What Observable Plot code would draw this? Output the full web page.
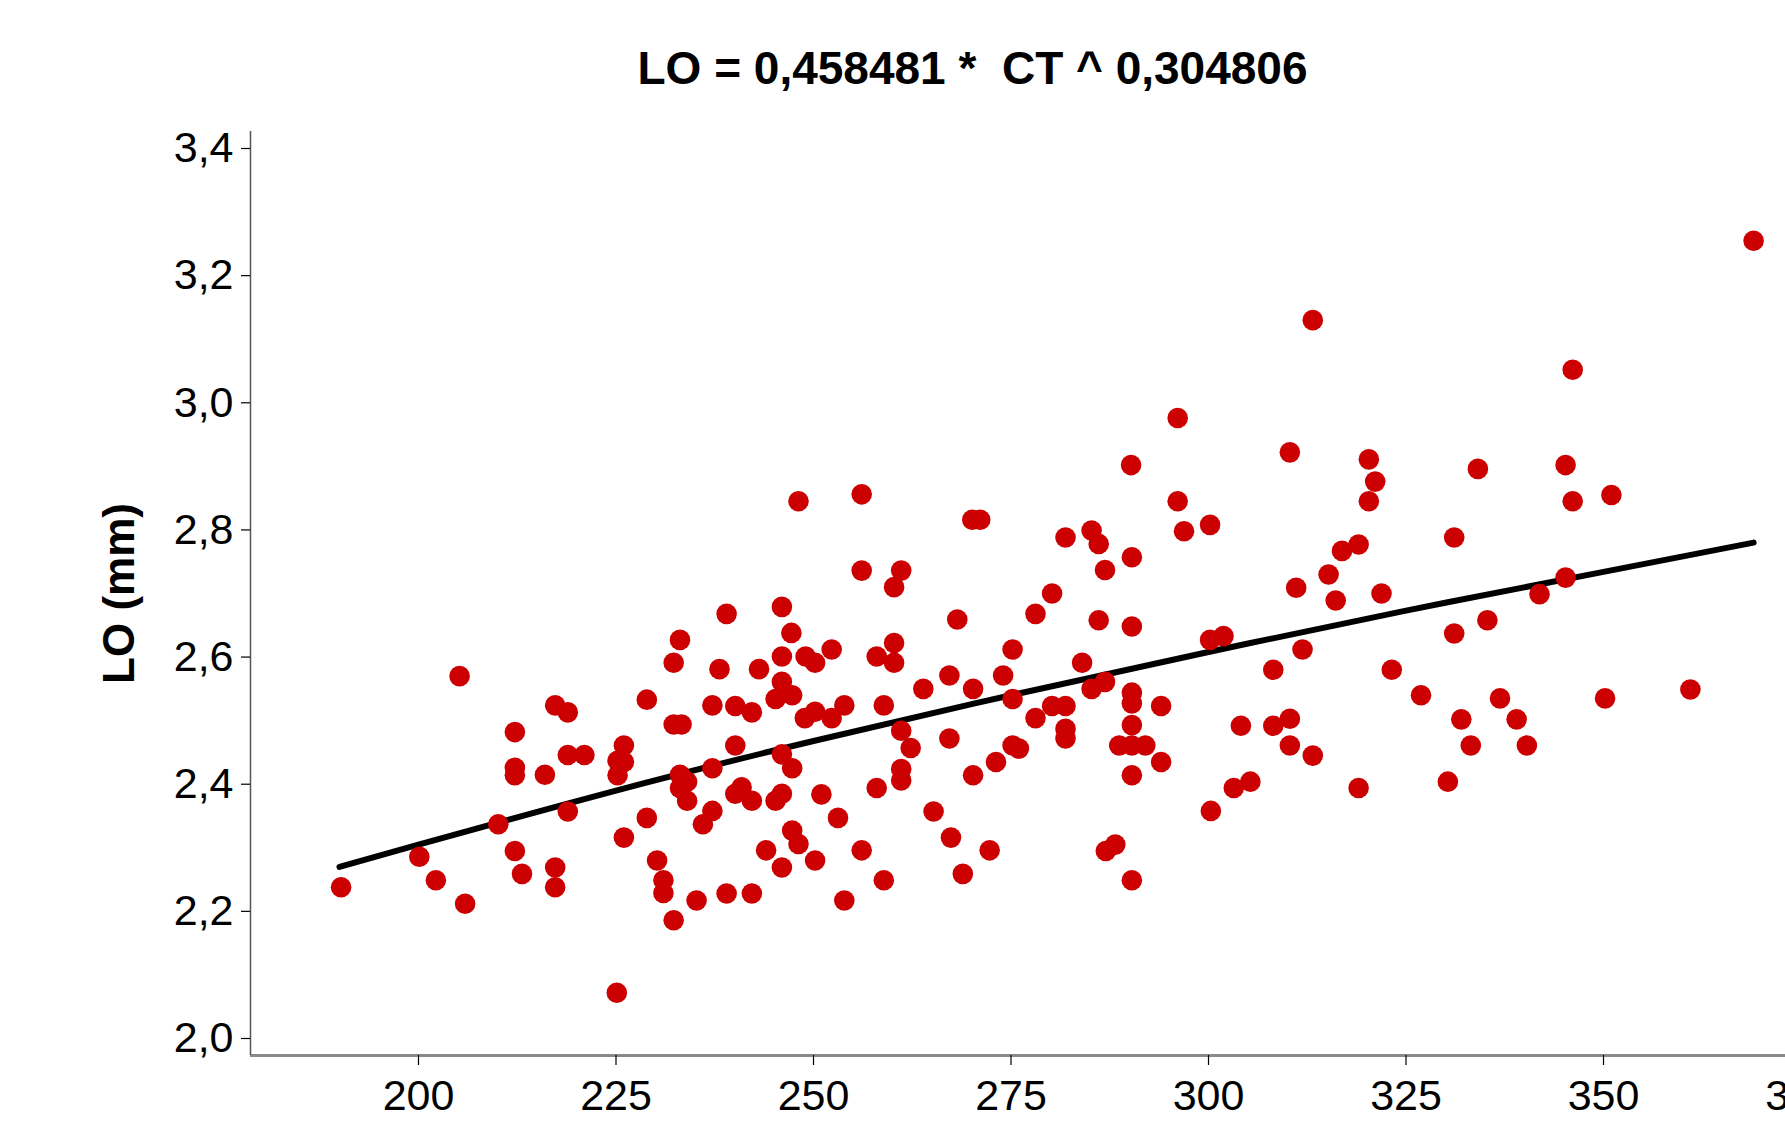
<!DOCTYPE html>
<html>
<head>
<meta charset="utf-8">
<script src="https://cdn.jsdelivr.net/npm/d3@7"></script>
<script src="https://cdn.jsdelivr.net/npm/@observablehq/plot@0.6"></script>
<style>
  html, body { margin: 0; padding: 0; background: #fff; overflow: hidden; }
  #wrap { width: 1785px; height: 1137px; overflow: hidden; position: relative; }
  #wrap svg { display: block; max-width: none !important; width: 1850px !important; height: 1137px !important; }
</style>
</head>
<body>
<div id="wrap"></div>
<script>
// ---- Data ----
const titleText = "LO = 0,458481 *  CT ^ 0,304806";
const yLabel = "LO (mm)";

const xTicks = [200, 225, 250, 275, 300, 325, 350, 375];
const xTickLabels = ["200", "225", "250", "275", "300", "325", "350", "375"];
const yTicks = [2.0, 2.2, 2.4, 2.6, 2.8, 3.0, 3.2, 3.4];
const yTickLabels = ["2,0", "2,2", "2,4", "2,6", "2,8", "3,0", "3,2", "3,4"];

const ct = [
  190.2, 200.1, 202.2, 205.2, 205.9, 210.1, 212.2, 212.2, 212.2, 212.2,
  213.1, 216.0, 217.3, 217.3, 217.3, 218.9, 218.9, 218.9, 221.0, 225.1,
  225.2, 225.2, 226.0, 226.0, 226.0, 228.9, 228.9, 230.2, 231.0, 231.0,
  232.3, 232.3, 232.3, 233.1, 233.3, 233.1, 233.1, 234.0, 234.0, 235.2,
  236.0, 237.2, 237.2, 237.2, 238.1, 239.0, 239.0, 240.1, 240.1, 240.1,
  240.9, 242.2, 242.2, 242.2, 243.1, 244.0, 245.2, 245.2, 246.0, 246.0,
  246.0, 246.0, 246.0, 246.0, 247.2, 247.3, 247.3, 247.3, 248.1, 248.1,
  249.0, 248.9, 250.2, 250.2, 250.2, 251.0, 252.3, 252.3, 253.1, 253.9,
  253.9, 256.1, 256.1, 256.1, 258.0, 258.0, 258.9, 258.9, 260.2, 260.2,
  260.2, 261.1, 261.1, 261.1, 261.1, 262.3, 263.9, 265.2, 267.2, 267.2,
  267.4, 268.2, 268.9, 270.1, 271.1, 270.2, 270.2, 272.3, 273.1, 274.0,
  275.2, 275.2, 275.2, 276.0, 278.1, 278.1, 280.2, 280.2, 281.9, 281.9,
  281.9, 281.9, 284.0, 285.2, 285.2, 286.1, 286.1, 286.9, 286.9, 287.0,
  288.2, 288.7, 290.2, 290.3, 290.3, 290.3, 290.3, 290.3, 290.3, 290.3,
  290.3, 292.0, 294.0, 294.0, 296.1, 296.1, 296.9, 300.2, 300.2, 300.3,
  301.9, 303.2, 304.1, 305.3, 308.2, 308.2, 310.3, 310.3, 310.3, 311.1,
  311.9, 313.2, 313.2, 315.2, 316.1, 316.9, 319.0, 319.0, 320.3, 320.3,
  321.1, 321.9, 323.2, 326.9, 330.3, 331.1, 331.1, 332.0, 333.2, 334.1,
  335.3, 336.9, 339.0, 340.3, 341.9, 345.2, 345.2, 346.1, 346.1, 350.2,
  351.0, 361.0, 369.0
];
const lo = [
  2.238, 2.286, 2.249, 2.570, 2.212, 2.337, 2.482, 2.426, 2.414, 2.295,
  2.259, 2.415, 2.524, 2.269, 2.238, 2.513, 2.446, 2.357, 2.446, 2.072,
  2.437, 2.414, 2.461, 2.435, 2.316, 2.533, 2.347, 2.280, 2.249, 2.229,
  2.591, 2.494, 2.186, 2.627, 2.494, 2.415, 2.394, 2.404, 2.374, 2.217,
  2.337, 2.524, 2.425, 2.358, 2.581, 2.668, 2.228, 2.461, 2.523, 2.385,
  2.395, 2.513, 2.374, 2.228, 2.581, 2.296, 2.374, 2.534, 2.679, 2.601,
  2.561, 2.447, 2.385, 2.269, 2.638, 2.540, 2.425, 2.327, 2.845, 2.306,
  2.601, 2.504, 2.591, 2.514, 2.280, 2.384, 2.612, 2.504, 2.347, 2.524,
  2.217, 2.856, 2.736, 2.296, 2.601, 2.394, 2.524, 2.249, 2.710, 2.622,
  2.591, 2.736, 2.484, 2.424, 2.406, 2.457, 2.550, 2.357, 2.571, 2.472,
  2.316, 2.659, 2.259, 2.816, 2.816, 2.550, 2.414, 2.296, 2.435, 2.571,
  2.612, 2.534, 2.461, 2.456, 2.504, 2.668, 2.700, 2.523, 2.788, 2.523,
  2.487, 2.472, 2.591, 2.799, 2.550, 2.778, 2.658, 2.737, 2.561, 2.295,
  2.305, 2.461, 2.902, 2.757, 2.648, 2.544, 2.527, 2.493, 2.461, 2.414,
  2.249, 2.461, 2.523, 2.435, 2.976, 2.845, 2.798, 2.808, 2.627, 2.358,
  2.633, 2.394, 2.492, 2.404, 2.580, 2.492, 2.922, 2.503, 2.461, 2.709,
  2.612, 3.130, 2.445, 2.730, 2.689, 2.767, 2.777, 2.394, 2.911, 2.845,
  2.876, 2.700, 2.580, 2.540, 2.404, 2.788, 2.637, 2.502, 2.461, 2.896,
  2.658, 2.535, 2.502, 2.461, 2.699, 2.902, 2.725, 3.052, 2.845, 2.535,
  2.855, 2.549, 3.255
];

// fitted curve at several CT values
const fitCT = [190, 200, 225, 250, 275, 300, 325, 350, 369];
const fitLO = [2.270, 2.305, 2.390, 2.468, 2.540, 2.608, 2.673, 2.734, 2.780];

// ---- Build tables ----
const points = ct.map((c, i) => ({ct: c, lo: lo[i]}));
const fit = fitCT.map((c, i) => ({ct: c, lo: fitLO[i]}));

const xDomain = [178.734, 380];
const yDomain = [1.97326, 3.42674];

const font = "'Liberation Sans', Arial, Helvetica, sans-serif";

const chart = Plot.plot({
  width: 1850,
  height: 1137,
  marginLeft: 250,
  marginRight: 10,
  marginTop: 131,
  marginBottom: 82,
  style: {fontFamily: font, background: "white", color: "black", overflow: "visible", maxWidth: "none"},
  x: {domain: xDomain},
  y: {domain: yDomain},
  marks: [
    Plot.line(fit, {x: "ct", y: "lo", stroke: "black", strokeWidth: 6, curve: "natural"}),
    Plot.dot(points, {x: "ct", y: "lo", r: 10.3, fill: "#cc0000", stroke: "none"}),
    Plot.ruleY([yDomain[0]], {stroke: "#8a8a8a", strokeWidth: 3}),
    Plot.ruleX([xDomain[0]], {stroke: "#555", strokeWidth: 1.5}),
    Plot.axisX({
      ticks: xTicks,
      tickFormat: d => xTickLabels[xTicks.indexOf(d)],
      tickSize: 10, tickPadding: 14, fontSize: 43,
      color: "black", strokeWidth: 1.2, label: null
    }),
    Plot.axisY({
      ticks: yTicks,
      tickFormat: d => yTickLabels[yTicks.indexOf(d)],
      tickSize: 9, tickPadding: 8, fontSize: 43,
      color: "black", strokeWidth: 1.2, label: null
    }),
    Plot.text([titleText], {
      frameAnchor: "top", dy: -62, dx: 972 - 1045,
      fontSize: 46, fontWeight: "bold", fill: "black", lineAnchor: "middle", textAnchor: "middle"
    }),
    Plot.text([yLabel], {
      frameAnchor: "left", dx: -131, rotate: -90,
      fontSize: 44, fontWeight: "bold", fill: "black", lineAnchor: "middle", textAnchor: "middle"
    })
  ]
});

document.getElementById("wrap").appendChild(chart);
</script>
</body>
</html>
